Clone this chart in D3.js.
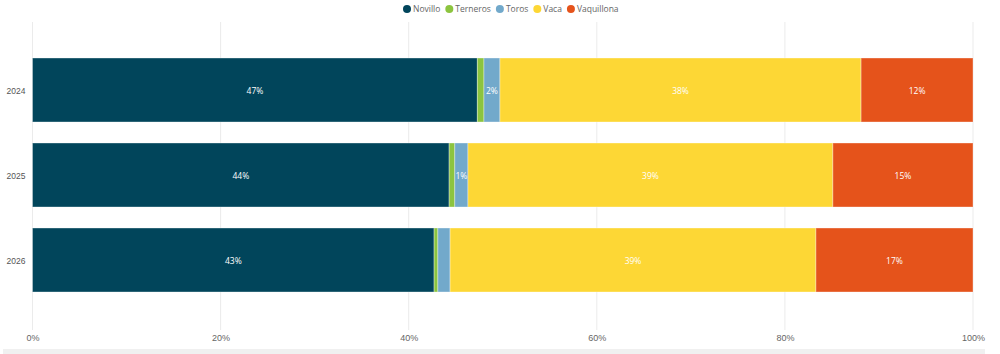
<!DOCTYPE html>
<html>
<head>
<meta charset="utf-8">
<script src="https://cdn.jsdelivr.net/npm/d3@7"></script>
<style>
  body { margin: 0; background: #fff; }
  svg { display: block; font-family: 'Segoe UI', 'Open Sans', 'DejaVu Sans', sans-serif; }
</style>
</head>
<body>
<svg id="chart" width="1000" height="354"></svg>
<script>
const years = ['2024', '2025', '2026']
const categories = ['Novillo', 'Terneros', 'Toros', 'Vaca', 'Vaquillona']
const colours = ['#01455b', '#8cc43f', '#72a9cb', '#fdd735', '#e5531b']

// share of head per category, percent
const novillo = [47.3, 44.3, 42.7]
const terneros = [0.7, 0.6, 0.4]
const toros = [1.7, 1.4, 1.3]
const vaca = [38.4, 38.8, 38.9]
const vaquillona = [11.9, 14.9, 16.7]

const tickValues = [0, 20, 40, 60, 80, 100]

const series = [novillo, terneros, toros, vaca, vaquillona]
const rows = years.map((y, i) => {
  const r = { year: y }
  categories.forEach((c, j) => { r[c] = series[j][i] })
  return r
})

const svg = d3.select('#chart')
const plotLeft = 32.5, plotRight = 973, gridTop = 22, gridBottom = 330

const x = d3.scaleLinear().domain([0, 100]).range([plotLeft, plotRight])
const y = d3.scaleBand().domain(years).range([47.5, 302.5]).paddingInner(0.247).paddingOuter(0.1235)
const colour = d3.scaleOrdinal().domain(categories).range(colours)

// bottom band
svg.append('rect').attr('x', 3).attr('y', 349).attr('width', 982).attr('height', 5).attr('fill', '#f0f0f0')

// grid
svg.append('g').selectAll('line')
  .data(tickValues)
  .join('line')
  .attr('x1', d => x(d)).attr('x2', d => x(d))
  .attr('y1', gridTop).attr('y2', gridBottom)
  .attr('stroke', '#ebebeb').attr('stroke-width', 1)

const xAxis = d3.axisBottom(x).tickValues(tickValues).tickFormat(d => d + '%').tickSize(0)
svg.append('g')
  .attr('transform', `translate(0,${gridBottom + 2})`)
  .call(xAxis)
  .call(g => g.select('.domain').remove())
  .selectAll('text')
  .attr('fill', '#666').style('font-size', '9px')

const yAxis = d3.axisLeft(y).tickSize(0).tickPadding(7)
svg.append('g')
  .attr('transform', `translate(${plotLeft},1.5)`)
  .call(yAxis)
  .call(g => g.select('.domain').remove())
  .selectAll('text')
  .attr('fill', '#555').style('font-size', '8.5px')

const stacked = d3.stack().keys(categories)(rows)

const layer = svg.append('g').selectAll('g')
  .data(stacked)
  .join('g')
  .attr('fill', d => colour(d.key))

layer.selectAll('rect')
  .data(d => d)
  .join('rect')
  .attr('x', d => x(d[0]))
  .attr('y', d => y(d.data.year))
  .attr('width', d => x(d[1]) - x(d[0]))
  .attr('height', y.bandwidth())
  .attr('stroke', 'rgba(255,255,255,0.35)')
  .attr('stroke-width', 1)

layer.selectAll('text')
  .data(d => d.filter(s => x(s[1]) - x(s[0]) > 13))
  .join('text')
  .attr('x', d => (x(d[0]) + x(d[1])) / 2)
  .attr('y', d => y(d.data.year) + y.bandwidth() / 2 + 1.5)
  .attr('dy', '0.35em')
  .attr('text-anchor', 'middle')
  .attr('fill', '#fff')
  .style('font-size', '8.5px')
  .text(d => Math.round(d[1] - d[0]) + '%')

// legend
const legend = svg.append('g').attr('transform', 'translate(0,9)')
let lx = 403
categories.forEach(c => {
  const g = legend.append('g').attr('transform', `translate(${lx},0)`)
  g.append('circle').attr('cx', 4).attr('cy', 0).attr('r', 4).attr('fill', colour(c))
  const t = g.append('text').attr('x', 10).attr('dy', '0.35em')
    .attr('fill', '#666').style('font-size', '8.5px').text(c)
  lx += 10 + t.node().getComputedTextLength() + 5
})
</script>
</body>
</html>
